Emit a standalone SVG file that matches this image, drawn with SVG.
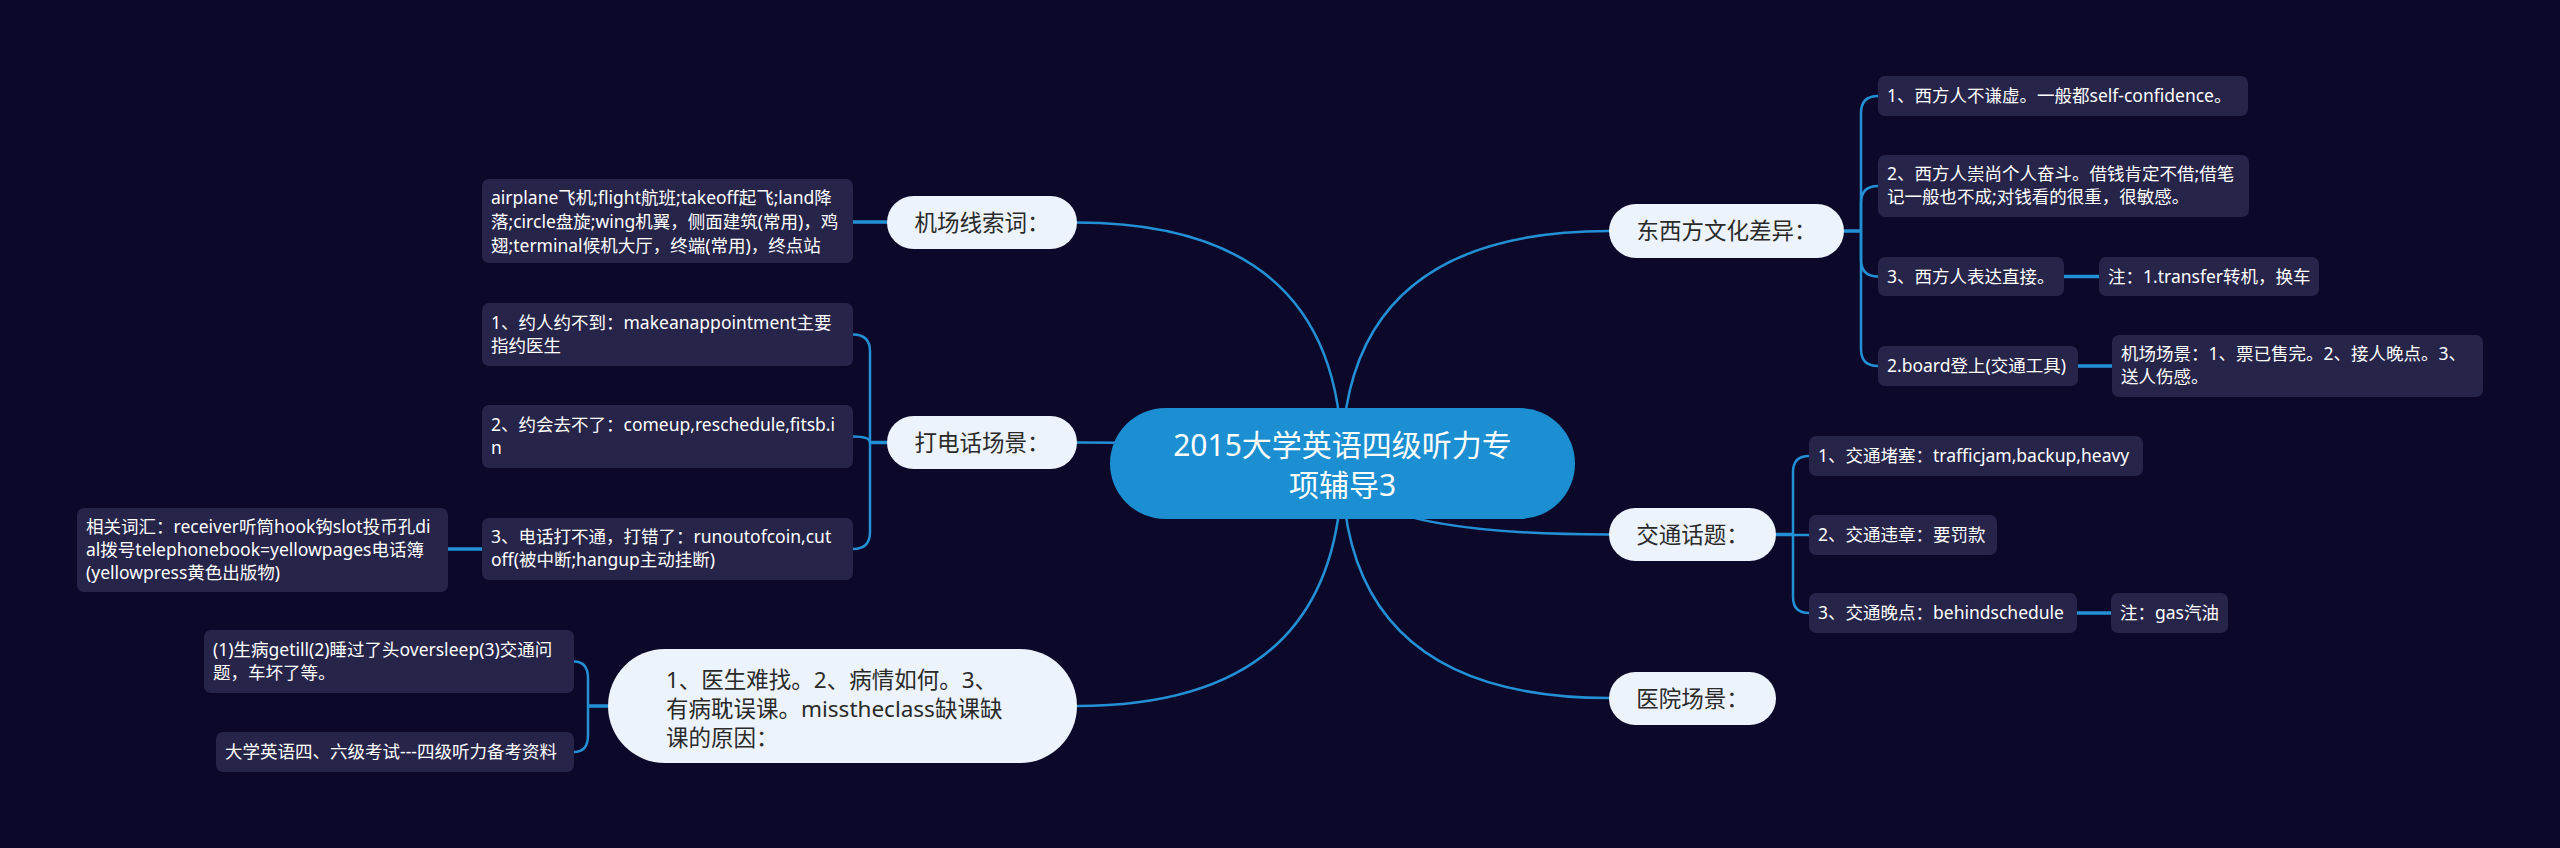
<svg xmlns="http://www.w3.org/2000/svg" width="2560" height="848" viewBox="0 0 2560 848">
<style>
.bg{fill:#0c0829}
.ln{fill:none;stroke:#2390d6;stroke-width:2.5;stroke-linecap:round}
.stem{fill:none;stroke:#2390d6;stroke-width:3.5}
.root{fill:#1b8fd2}
.l1{fill:#edf3fd}
.l2{fill:#27244a}
text{font-family:"Noto Sans","Noto Sans CJK SC",sans-serif}
.tr{font-size:30px;fill:#ffffff;text-anchor:middle}
.t1{font-size:22.5px;fill:#2a2a2a}
.t1c{text-anchor:middle}
.t2{font-size:17.5px;fill:#ffffff}
</style>
<rect class="bg" x="0" y="0" width="2560" height="848"/>
<g id="connectors">
<path class="ln" d="M1342,463 Q1342,222.5 1076,222.5"/>
<path class="ln" d="M1342,463 Q1342,442.5 1077,442.5"/>
<path class="ln" d="M1342,463 Q1342,706 1077,706"/>
<path class="ln" d="M1342,463 Q1342,231 1609,231"/>
<path class="ln" d="M1342,463 Q1342,534.5 1609,534.5"/>
<path class="ln" d="M1342,463 Q1342,698 1609,698"/>
<path class="stem" d="M1844,231 H1861"/>
<path class="ln" d="M1861,231 V113 Q1861,96 1878,96"/>
<path class="ln" d="M1861,231 V203 Q1861,186 1878,186"/>
<path class="ln" d="M1861,231 V259.5 Q1861,276.5 1878,276.5"/>
<path class="ln" d="M1861,231 V349 Q1861,366 1878,366"/>
<path class="stem" d="M2064,276.5 H2099"/>
<path class="stem" d="M2078,366 H2112"/>
<path class="stem" d="M1776,534.5 H1793"/>
<path class="ln" d="M1793,534.5 V472 Q1793,456 1809,456"/>
<path class="ln" d="M1793,534.5 V535 H1809"/>
<path class="ln" d="M1793,534.5 V597 Q1793,613 1809,613"/>
<path class="stem" d="M2077,613 H2111"/>
<path class="stem" d="M887,222 H853"/>
<path class="stem" d="M887,442.5 H870"/>
<path class="ln" d="M870,442.5 V351.5 Q870,334.5 853,334.5"/>
<path class="ln" d="M870,442.5 Q870,436.5 853,436.5"/>
<path class="ln" d="M870,442.5 V532 Q870,549 853,549"/>
<path class="stem" d="M482,549 H448"/>
<path class="stem" d="M608,706 H588"/>
<path class="ln" d="M588,706 V678.5 Q588,661.5 574,661.5"/>
<path class="ln" d="M588,706 V735 Q588,752 574,752"/>
</g>
<g id="root">
<rect class="root" x="1110" y="408" width="465" height="111" rx="55.5"/>
<text class="tr" x="1342.5" y="456">2015大学英语四级听力专</text>
<text class="tr" x="1342.5" y="496">项辅导3</text>
</g>
<g id="n-dongxi">
<rect class="l1" x="1609" y="204" width="235" height="54" rx="27"/>
<text class="t1 t1c" x="1726.5" y="239">东西方文化差异：</text>
</g>
<g id="n-dx1">
<rect class="l2" x="1878" y="76" width="370" height="40" rx="7"/>
<text class="t2" x="1887" y="102">1、西方人不谦虚。一般都self-confidence。</text>
</g>
<g id="n-dx2">
<rect class="l2" x="1878" y="155" width="371" height="62" rx="7"/>
<text class="t2" x="1887" y="180">2、西方人崇尚个人奋斗。借钱肯定不借;借笔</text>
<text class="t2" x="1887" y="203">记一般也不成;对钱看的很重，很敏感。</text>
</g>
<g id="n-dx3">
<rect class="l2" x="1878" y="257" width="186" height="39" rx="7"/>
<text class="t2" x="1887" y="282.5">3、西方人表达直接。</text>
</g>
<g id="n-dx3n">
<rect class="l2" x="2099" y="257" width="220" height="39" rx="7"/>
<text class="t2" x="2108" y="282.5">注：1.transfer转机，换车</text>
</g>
<g id="n-dx4">
<rect class="l2" x="1878" y="346" width="200" height="40" rx="7"/>
<text class="t2" x="1887" y="372">2.board登上(交通工具)</text>
</g>
<g id="n-dx4n">
<rect class="l2" x="2112" y="335" width="371" height="62" rx="7"/>
<text class="t2" x="2121" y="360">机场场景：1、票已售完。2、接人晚点。3、</text>
<text class="t2" x="2121" y="383">送人伤感。</text>
</g>
<g id="n-jiaotong">
<rect class="l1" x="1609" y="508" width="167" height="53" rx="26.5"/>
<text class="t1 t1c" x="1692.5" y="542.5">交通话题：</text>
</g>
<g id="n-jt1">
<rect class="l2" x="1809" y="436" width="334" height="40" rx="7"/>
<text class="t2" x="1818" y="462">1、交通堵塞：trafficjam,backup,heavy</text>
</g>
<g id="n-jt2">
<rect class="l2" x="1809" y="515" width="188" height="40" rx="7"/>
<text class="t2" x="1818" y="541">2、交通违章：要罚款</text>
</g>
<g id="n-jt3">
<rect class="l2" x="1809" y="593" width="268" height="40" rx="7"/>
<text class="t2" x="1818" y="619">3、交通晚点：behindschedule</text>
</g>
<g id="n-jt3n">
<rect class="l2" x="2111" y="593" width="117" height="40" rx="7"/>
<text class="t2" x="2120" y="619">注：gas汽油</text>
</g>
<g id="n-yiyuan">
<rect class="l1" x="1609" y="672" width="167" height="53" rx="26.5"/>
<text class="t1 t1c" x="1692.5" y="706.5">医院场景：</text>
</g>
<g id="n-jichang">
<rect class="l1" x="887" y="196" width="190" height="53" rx="26.5"/>
<text class="t1 t1c" x="982" y="230.5">机场线索词：</text>
</g>
<g id="n-air">
<rect class="l2" x="482" y="179" width="371" height="84" rx="7"/>
<text class="t2" x="491" y="204">airplane飞机;flight航班;takeoff起飞;land降</text>
<text class="t2" x="491" y="228">落;circle盘旋;wing机翼，侧面建筑(常用)，鸡</text>
<text class="t2" x="491" y="252">翅;terminal候机大厅，终端(常用)，终点站</text>
</g>
<g id="n-dianhua">
<rect class="l1" x="887" y="416" width="190" height="53" rx="26.5"/>
<text class="t1 t1c" x="982" y="450.5">打电话场景：</text>
</g>
<g id="n-dh1">
<rect class="l2" x="482" y="303" width="371" height="63" rx="7"/>
<text class="t2" x="491" y="329">1、约人约不到：makeanappointment主要</text>
<text class="t2" x="491" y="352">指约医生</text>
</g>
<g id="n-dh2">
<rect class="l2" x="482" y="405" width="371" height="63" rx="7"/>
<text class="t2" x="491" y="431">2、约会去不了：comeup,reschedule,fitsb.i</text>
<text class="t2" x="491" y="454">n</text>
</g>
<g id="n-dh3">
<rect class="l2" x="482" y="518" width="371" height="62" rx="7"/>
<text class="t2" x="491" y="543">3、电话打不通，打错了：runoutofcoin,cut</text>
<text class="t2" x="491" y="566">off(被中断;hangup主动挂断)</text>
</g>
<g id="n-dh3n">
<rect class="l2" x="77" y="508" width="371" height="84" rx="7"/>
<text class="t2" x="86" y="533">相关词汇：receiver听筒hook钩slot投币孔di</text>
<text class="t2" x="86" y="556">al拨号telephonebook=yellowpages电话簿</text>
<text class="t2" x="86" y="579">(yellowpress黄色出版物)</text>
</g>
<g id="n-big">
<rect class="l1" x="608" y="649" width="469" height="114" rx="57"/>
<text class="t1" x="666" y="688">1、医生难找。2、病情如何。3、</text>
<text class="t1" x="666" y="717">有病耽误课。misstheclass缺课缺</text>
<text class="t1" x="666" y="746">课的原因：</text>
</g>
<g id="n-big1">
<rect class="l2" x="204" y="630" width="370" height="63" rx="7"/>
<text class="t2" x="213" y="656">(1)生病getill(2)睡过了头oversleep(3)交通问</text>
<text class="t2" x="213" y="679">题，车坏了等。</text>
</g>
<g id="n-big2">
<rect class="l2" x="216" y="732" width="358" height="40" rx="7"/>
<text class="t2" x="225" y="758">大学英语四、六级考试---四级听力备考资料</text>
</g>
</svg>
